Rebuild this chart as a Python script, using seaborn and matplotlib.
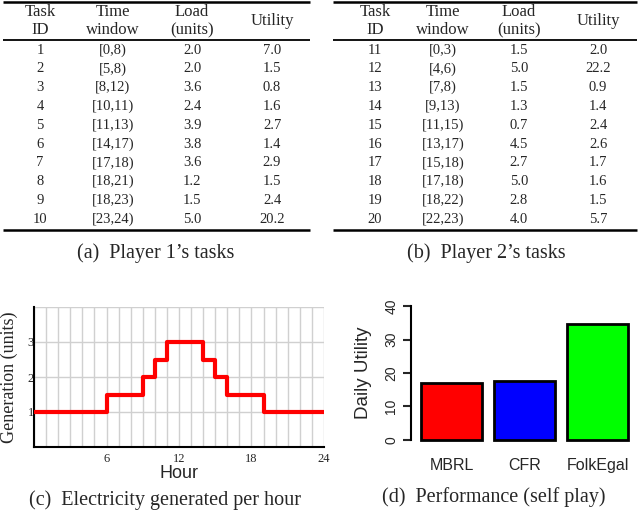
import matplotlib
matplotlib.use("Agg")
import matplotlib.pyplot as plt
import seaborn as sns
import pandas as pd

# table data
P1_IDS = ['1', '2', '3', '4', '5', '6', '7', '8', '9', '10']
P1_WINDOWS = ['[0,8)', '[5,8)', '[8,12)', '[10,11)', '[11,13)',
              '[14,17)', '[17,18)', '[18,21)', '[18,23)', '[23,24)']
P1_LOAD = [2.0, 2.0, 3.6, 2.4, 3.9, 3.8, 3.6, 1.2, 1.5, 5.0]
P1_UTIL = [7.0, 1.5, 0.8, 1.6, 2.7, 1.4, 2.9, 1.5, 2.4, 20.2]

P2_IDS = ['11', '12', '13', '14', '15', '16', '17', '18', '19', '20']
P2_WINDOWS = ['[0,3)', '[4,6)', '[7,8)', '[9,13)', '[11,15)',
              '[13,17)', '[15,18)', '[17,18)', '[18,22)', '[22,23)']
P2_LOAD = [1.5, 5.0, 1.5, 1.3, 0.7, 4.5, 2.7, 5.0, 2.8, 4.0]
P2_UTIL = [2.0, 22.2, 0.9, 1.4, 2.4, 2.6, 1.7, 1.6, 1.5, 5.7]

HEADERS = [('Task', 'ID'), ('Time', 'window'), ('Load', '(units)'), ('Utility', None)]

# generation per hour (step changes)
HOURS = [0, 6, 9, 10, 11, 14, 15, 16, 19, 24]
GENERATION = [1, 1.5, 2, 2.5, 3, 2.5, 2, 1.5, 1, 1]

# performance
METHODS = ['MBRL', 'CFR', 'FolkEgal']
DAILY_UTILITY = [17.0, 17.7, 34.7]
BAR_COLORS = ['#ff0000', '#0000ff', '#00ff00']

CAPTIONS = ["(a)  Player 1\u2019s tasks", "(b)  Player 2\u2019s tasks",
            "(c)  Electricity generated per hour", "(d)  Performance (self play)"]

W, H = 640, 517
SERIF = ['Liberation Serif', 'DejaVu Serif']
SANS = ['Liberation Sans', 'DejaVu Sans']

sns.set_style('white')
plt.rcParams['font.family'] = SERIF


def px_box(left, top, right, bottom):
    return [left / W, 1 - bottom / H, (right - left) / W, (bottom - top) / H]


fig = plt.figure(figsize=(W / 100, H / 100), dpi=100)

# overlay for tables and captions, in pixel units
ax_t = fig.add_axes([0, 0, 1, 1])
ax_t.set_xlim(0, W)
ax_t.set_ylim(H, 0)
ax_t.axis('off')


def draw_table(ax, x0, x1, col_x, ids, windows, loads, utils):
    ax.hlines(1.5, x0, x1, color='black', lw=1.8)
    ax.hlines(39.5, x0, x1, color='black', lw=1.3)
    ax.hlines(230, x0, x1, color='black', lw=1.8)
    for cx, (top, bottom) in zip(col_x, HEADERS):
        if bottom is None:
            ax.text(cx, 21, top, ha='center', va='center', fontsize=12)
        else:
            ax.text(cx, 12, top, ha='center', va='center', fontsize=12)
            ax.text(cx, 30, bottom, ha='center', va='center', fontsize=12)
    for i in range(len(ids)):
        y = 50 + i * 18.8
        row = [ids[i], windows[i], f'{loads[i]:.1f}', f'{utils[i]:.1f}']
        for cx, txt in zip(col_x, row):
            ax.text(cx, y, txt, ha='center', va='center', fontsize=10.5)


draw_table(ax_t, 3, 310, [40, 113, 192, 272], P1_IDS, P1_WINDOWS, P1_LOAD, P1_UTIL)
draw_table(ax_t, 333, 637, [375, 443, 519, 598], P2_IDS, P2_WINDOWS, P2_LOAD, P2_UTIL)

ax_t.text(156, 253, CAPTIONS[0], ha='center', va='center', fontsize=14.5)
ax_t.text(486, 253, CAPTIONS[1], ha='center', va='center', fontsize=14.5)
ax_t.text(165, 500, CAPTIONS[2], ha='center', va='center', fontsize=14.5)
ax_t.text(494, 497, CAPTIONS[3], ha='center', va='center', fontsize=14.5)

# (c) generation step plot
ax_c = fig.add_axes(px_box(34, 307, 324, 447))
gen_df = pd.DataFrame({'Hour': HOURS, 'Generation': GENERATION})
sns.lineplot(data=gen_df, x='Hour', y='Generation', ax=ax_c, color='#ff0000',
             lw=3, drawstyle='steps-post', zorder=3)
ax_c.set_xlim(0, 24)
ax_c.set_ylim(0, 4)
ax_c.set_xticks(range(0, 25))
ax_c.set_xticklabels(['' if h % 6 or h == 0 else str(h) for h in range(0, 25)])
ax_c.set_yticks([0, 1, 2, 3, 4])
ax_c.set_yticklabels(['', '1', '2', '3', ''])
ax_c.grid(True, color='#d0d0d0', lw=1)
ax_c.tick_params(axis='both', length=0, labelsize=9)
ax_c.tick_params(axis='x', pad=4)
ax_c.tick_params(axis='y', pad=0)
for side in ['top', 'right']:
    ax_c.spines[side].set_visible(False)
for side in ['left', 'bottom']:
    ax_c.spines[side].set_color('black')
    ax_c.spines[side].set_linewidth(1.5)
ax_c.set_xlabel('Hour', fontsize=13, family=SANS)
ax_c.xaxis.set_label_coords(0.5, -0.125)
ax_c.set_ylabel('Generation (units)', fontsize=13)
ax_c.yaxis.set_label_coords(-0.055, 0.5)

# (d) performance bars
ax_d = fig.add_axes(px_box(411, 302, 640, 444))
perf_df = pd.DataFrame({'Method': METHODS, 'Utility': DAILY_UTILITY})
sns.barplot(data=perf_df, x='Method', y='Utility', hue='Method', palette=BAR_COLORS,
            legend=False, ax=ax_d, width=0.835, edgecolor='black', linewidth=2,
            saturation=1)
ax_d.set_xlim(-0.555, 2.58)
ax_d.set_ylim(-1.2, 41.2)
ax_d.set_yticks([0, 10, 20, 30, 40])
ax_d.set_yticklabels(['0', '10', '20', '30', '40'], rotation=90, va='center',
                     family=SANS, fontsize=10)
for lab in ax_d.get_xticklabels():
    lab.set_family(SANS)
    lab.set_fontsize(11.5)
ax_d.tick_params(axis='y', length=6, width=1.5, direction='out', left=True, pad=3)
ax_d.tick_params(axis='x', length=0, pad=10)
for side in ['top', 'right', 'bottom']:
    ax_d.spines[side].set_visible(False)
ax_d.spines['left'].set_bounds(0, 40)
ax_d.spines['left'].set_linewidth(1.5)
ax_d.spines['left'].set_color('black')
ax_d.set_xlabel('')
ax_d.set_ylabel('Daily Utility', family=SANS, fontsize=13.5)
ax_d.yaxis.set_label_coords(-0.17, 0.5)

fig.savefig('out.png', dpi=100)
